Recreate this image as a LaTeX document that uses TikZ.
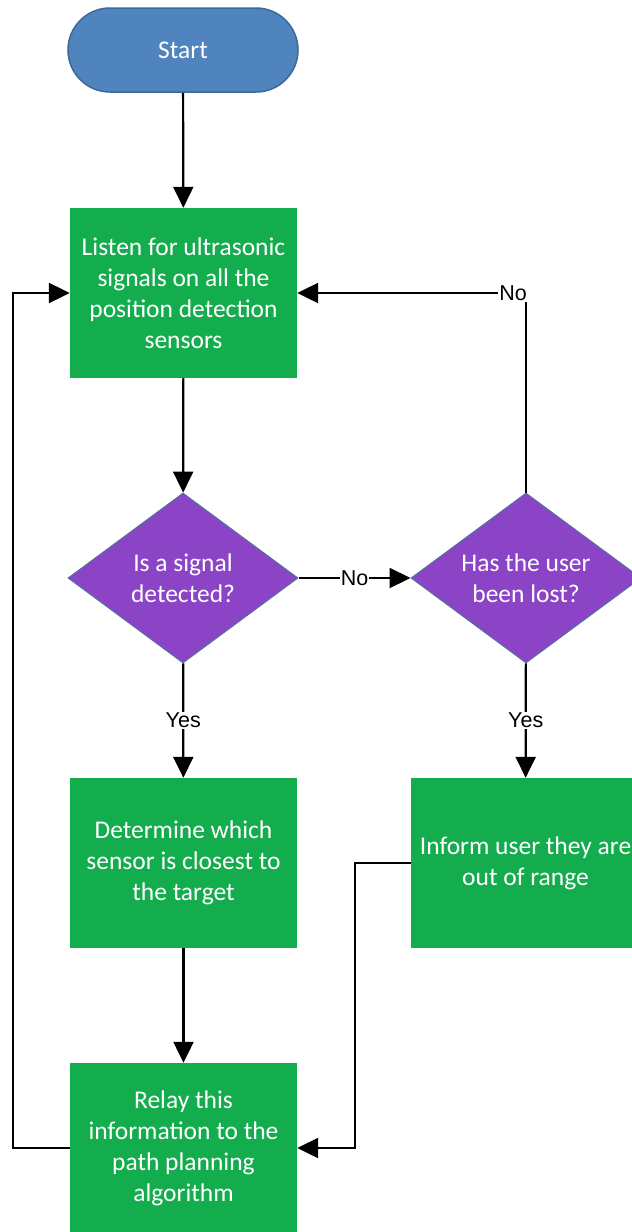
\documentclass[tikz,border=0pt]{standalone}
\usepackage{fontspec}
\setmainfont{Carlito}
\newfontfamily\labelfont{Liberation Sans}
\usetikzlibrary{shapes.geometric,arrows.meta}
\definecolor{startfill}{HTML}{4F84BE}
\definecolor{startline}{HTML}{3A6A9A}
\definecolor{procfill}{HTML}{14AD4E}
\definecolor{decfill}{HTML}{8B44C6}
\definecolor{decline}{HTML}{5470A0}
\begin{document}
\begin{tikzpicture}[x=1pt,y=1pt,
  txt/.style={text=white,font=\fontsize{25.5}{31}\selectfont,align=center},
  terminal/.style={txt,draw=startline,line width=1.5pt,fill=startfill,rectangle,
    rounded corners=42pt,minimum width=230pt,minimum height=84pt},
  process/.style={txt,fill=procfill,rectangle,inner sep=0pt,
    minimum width=227pt,minimum height=170pt},
  decision/.style={txt,draw=decline,line width=1pt,fill=decfill,diamond,
    aspect=1.35,inner sep=0pt,minimum width=230pt,minimum height=170pt},
  flow/.style={line width=2.2pt,-{Triangle[length=21pt,width=20pt]}},
  lbl/.style={fill=white,inner sep=1pt,text=black,font=\labelfont\fontsize{21.5}{24}\selectfont}
]
\clip (0,0) rectangle (632,-1232);

% nodes
\node[terminal] (start) at (183,-50) {Start};
\node[process] (listen) at (183.5,-293) {Listen for ultrasonic\\signals on all the\\position detection\\sensors};
\node[decision] (detect) at (183,-578) {Is a signal\\detected?};
\node[decision] (lost) at (526,-578) {Has the user\\been lost?};
\node[process] (closest) at (183.5,-863) {Determine which\\sensor is closest to\\the target};
\node[process,minimum width=229pt] (inform) at (525.5,-863) {Inform user they are\\out of range};
\node[process] (relay) at (183.5,-1148) {Relay this\\information to the\\path planning\\algorithm};

\coordinate (leftrail) at (13,-700);
\coordinate (rightrail) at (355,-1000);

% connectors
\draw[flow] (start) -- (listen);
\draw[flow] (listen) -- (detect);
\draw[flow] (detect) -- node[lbl] {No} (lost);
\draw[flow] (lost.north) |- node[lbl,pos=0.528] {No} (listen.east);
\draw[flow] (detect) -- node[lbl] {Yes} (closest);
\draw[flow] (lost) -- node[lbl] {Yes} (inform);
\draw[flow] (closest) -- (relay);
\draw[flow] (relay.west) -| (leftrail) |- (listen.west);
\draw[flow] (inform.west) -| (rightrail) |- (relay.east);
\end{tikzpicture}
\end{document}
